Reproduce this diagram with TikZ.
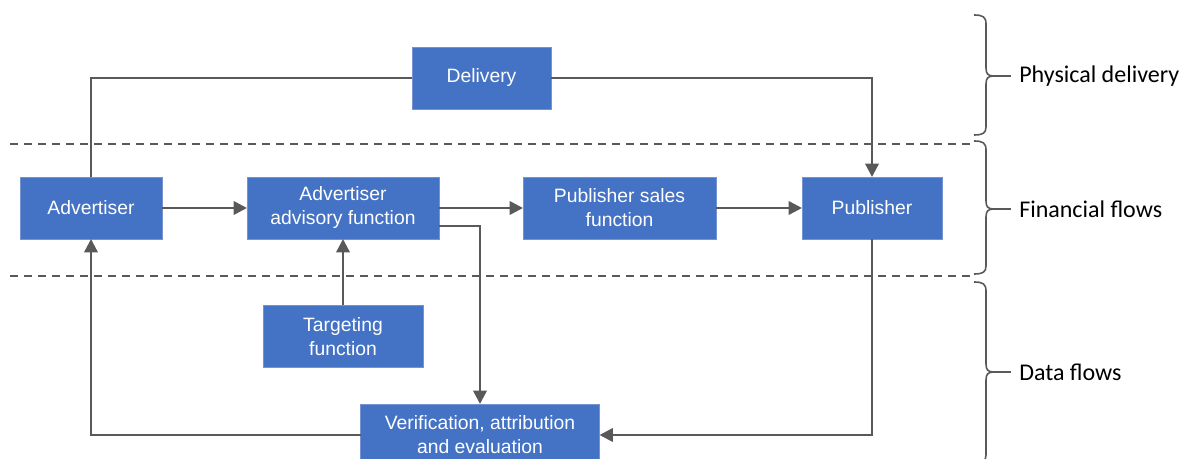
\documentclass[tikz,border=0pt]{standalone}
\usepackage{fontspec}
\setmainfont{Liberation Sans}
\newfontfamily\bracefont{Carlito}
\usetikzlibrary{arrows.meta,positioning}
\definecolor{boxblue}{HTML}{4472C4}
\definecolor{boxedge}{HTML}{7393D2}
\definecolor{linegray}{HTML}{595959}

\begin{document}
\begin{tikzpicture}[
  x=0.75pt, y=-0.75pt,
  font=\fontsize{14.5}{18}\selectfont,
  >={Triangle[length=10pt,width=10pt]},
  box/.style={draw=boxedge, fill=boxblue, text=white, align=center, inner sep=0pt, outer sep=0pt, minimum height=46.5pt, line width=0.6pt},
  arr/.style={->, draw=linegray, line width=1.8pt},
  link/.style={draw=linegray, line width=1.8pt},
  sep/.style={draw=linegray, line width=1.5pt, dash pattern=on 6pt off 4.5pt},
  brace/.style={draw=linegray, line width=1.2pt},
  side/.style={font=\bracefont\fontsize{18}{20}\selectfont, anchor=west, inner sep=0pt}
]
  \useasboundingbox (0,0) rectangle (1189,459);
  % boxes
  \node[box, minimum width=104.25pt] (delivery) at (481.5,78) {Delivery};
  \node[box, minimum width=106.5pt] (advertiser) at (91,208) {Advertiser};
  \node[box, minimum width=144pt] (advisory) at (343,208) {Advertiser\\advisory function};
  \node[box, minimum width=144.75pt] (sales) at (619.5,208) {Publisher sales\\function};
  \node[box, minimum width=105pt] (publisher) at (872,208) {Publisher};
  \node[box, minimum width=120pt] (targeting) at (343,336.5) {Targeting\\function};
  \node[box, minimum width=179.25pt] (verify) at (480,435) {Verification, attribution\\and evaluation};
  % layer separators
  \draw[sep] (10,144) -- (971,144);
  \draw[sep] (10,276) -- (971,276);
  % flows
  \draw[link] (advertiser.north) |- (delivery.west);
  \draw[arr] (delivery.east) -| (publisher.north);
  \draw[arr] (advertiser) -- (advisory);
  \draw[arr] (advisory) -- (sales);
  \draw[arr] (sales) -- (publisher);
  \draw[arr] (targeting) -- (advisory);
  \draw[arr] ([yshift=-13.5pt]advisory.east) -| (verify.north);
  \draw[arr] (publisher.south) |- (verify.east);
  \draw[arr] (verify.west) -| (advertiser.south);
  % braces
  \node[side] (physical) at (1019,76) {Physical delivery};
  \node[side] (financial) at (1019,209) {Financial flows};
  \node[side] (dataflows) at (1019,372) {Data flows};
  \draw[brace] (974,15) .. controls (983,15) and (986,17) .. (986,24) -- (986,68)
    .. controls (986,74) and (988,76) .. (994,76) .. controls (988,76) and (986,78) .. (986,84)
    -- (986,127) .. controls (986,133) and (983,135) .. (974,135);
  \draw[brace] (994,76) -- (1011,76);
  \draw[brace] (974,141) .. controls (983,141) and (986,143) .. (986,150) -- (986,201)
    .. controls (986,207) and (988,209) .. (994,209) .. controls (988,209) and (986,211) .. (986,217)
    -- (986,266) .. controls (986,272) and (983,274) .. (974,274);
  \draw[brace] (994,209) -- (1011,209);
  \draw[brace] (974,282) .. controls (983,282) and (986,284) .. (986,291) -- (986,364)
    .. controls (986,370) and (988,372) .. (994,372) .. controls (988,372) and (986,374) .. (986,380)
    -- (986,455) .. controls (986,461) and (983,463) .. (974,463);
  \draw[brace] (994,372) -- (1011,372);
\end{tikzpicture}
\end{document}
